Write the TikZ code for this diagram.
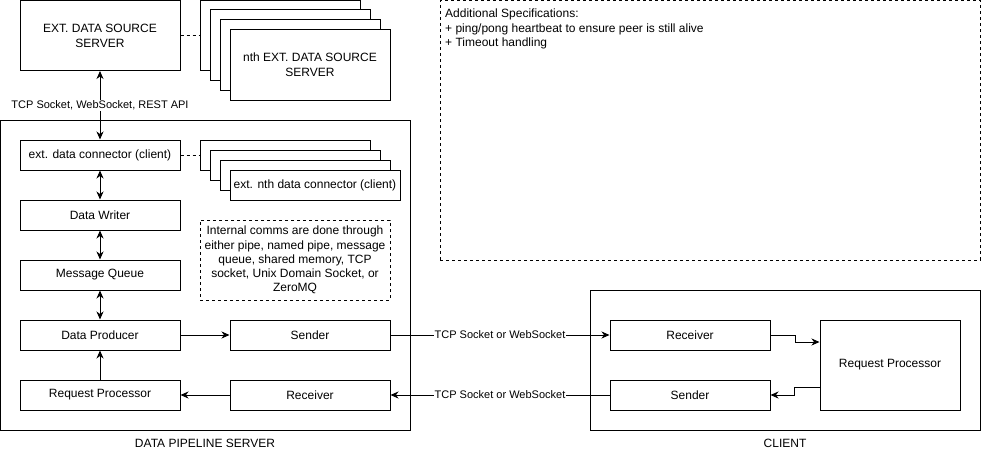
\documentclass[tikz,border=0pt]{standalone}
\usepackage{fontspec}
\setmainfont{Liberation Sans}
\usetikzlibrary{arrows.meta,calc}
\begin{document}
\begin{tikzpicture}[x=1pt,y=-1pt,
  box/.style={draw, fill=white, line width=1pt, inner sep=0pt, align=center,
    font=\fontsize{12}{15}\selectfont},
  dbox/.style={box, dash pattern=on 3pt off 3pt},
  lbl/.style={inner sep=1pt, fill=white, font=\fontsize{11}{13}\selectfont},
  ttl/.style={inner sep=0pt, font=\fontsize{12}{14}\selectfont},
  tip/.tip={Stealth[length=8pt,width=7pt,inset=2.5pt]},
  arr/.style={-tip, line width=1pt},
  darr/.style={tip-tip, line width=1pt},
  dline/.style={line width=1pt, dash pattern=on 3pt off 3pt}]
\useasboundingbox (0,0) rectangle (981,452);

% containers
\node[box, minimum width=409.5pt, minimum height=310pt] (server) at (205.25,275) {};
\node[box, minimum width=390pt, minimum height=140pt] (client) at (785,360) {};
\node[dbox, minimum width=540pt, minimum height=259.5pt] (spec) at (710,130.25) {};
\node[ttl, anchor=north west, align=left, font=\fontsize{12}{14.3}\selectfont] (spectext) at (445,9)
  {Additional Specifications:\\+ ping/pong heartbeat to ensure peer is still alive\\+ Timeout handling};
\node[ttl] (serverlbl) at (205,443) {DATA PIPELINE SERVER};
\node[ttl] (clientlbl) at (785,443) {CLIENT};

% external data source servers
\node[box, minimum width=160pt, minimum height=70pt] (src) at (100,35.5) {EXT. DATA SOURCE\\SERVER};
\node[box, minimum width=160pt, minimum height=70pt] (srcA) at (280,35.5) {};
\node[box, minimum width=160pt, minimum height=70pt] (srcB) at (290,45) {};
\node[box, minimum width=160pt, minimum height=70pt] (srcC) at (300,55) {};
\node[box, minimum width=160pt, minimum height=70pt] (srcD) at (310,65) {nth EXT. DATA SOURCE\\SERVER};
\draw[dline] (src.east) -- (srcA.west);

% connectors
\node[box, minimum width=160pt, minimum height=30pt] (conn) at (100,155) {ext. data connector (client)};
\node[box, minimum width=170pt, minimum height=30pt] (connA) at (285,155) {};
\node[box, minimum width=170pt, minimum height=30pt] (connB) at (295,165) {};
\node[box, minimum width=170pt, minimum height=30pt] (connC) at (305,175) {};
\node[box, minimum width=170pt, minimum height=30pt] (connD) at (315,185) {ext. nth data connector (client)};
\draw[dline] (conn.east) -- (connA.west);

% pipeline
\node[box, minimum width=160pt, minimum height=30pt] (writer) at (100,215) {Data Writer};
\node[box, minimum width=160pt, minimum height=30pt] (mq) at (100,275) {Message Queue};
\node[box, minimum width=160pt, minimum height=30pt] (prod) at (100,335) {Data Producer};
\node[box, minimum width=160pt, minimum height=30pt] (rp) at (100,395) {Request Processor};
\node[box, minimum width=160pt, minimum height=30pt] (send) at (310,335) {Sender};
\node[box, minimum width=160pt, minimum height=30pt] (recv) at (310,395) {Receiver};
\node[dbox, minimum width=190pt, minimum height=80pt, font=\fontsize{12}{14.2}\selectfont] (note) at (295,260)
  {Internal comms are done through\\either pipe, named pipe, message\\queue, shared memory, TCP\\socket, Unix Domain Socket, or\\ZeroMQ};

% client
\node[box, minimum width=160pt, minimum height=30pt] (crecv) at (690,335) {Receiver};
\node[box, minimum width=160pt, minimum height=30pt] (csend) at (690,395) {Sender};
\node[box, minimum width=140pt, minimum height=90pt] (crp) at (890,365) {Request Processor};

% connections
\draw[darr] (src.south) -- node[lbl] {TCP Socket, WebSocket, REST API} (conn.north);
\draw[darr] (conn.south) -- (writer.north);
\draw[darr] (writer.south) -- (mq.north);
\draw[darr] (mq.south) -- (prod.north);
\draw[arr] (rp.north) -- (prod.south);
\draw[arr] (prod.east) -- (send.west);
\draw[arr] (recv.west) -- (rp.east);
\draw[arr] (send.east) -- node[lbl] {TCP Socket or WebSocket} (crecv.west);
\draw[arr] (csend.west) -- node[lbl] {TCP Socket or WebSocket} (recv.east);
\draw[arr] (crecv.east) -- ($(crecv.east)+(25,0)$) |- ($(crp.west)+(0,-23)$);
\draw[arr] ($(crp.west)+(0,22)$) -- ($(crp.west)+(-25,22)$) |- (csend.east);
\end{tikzpicture}
\end{document}
